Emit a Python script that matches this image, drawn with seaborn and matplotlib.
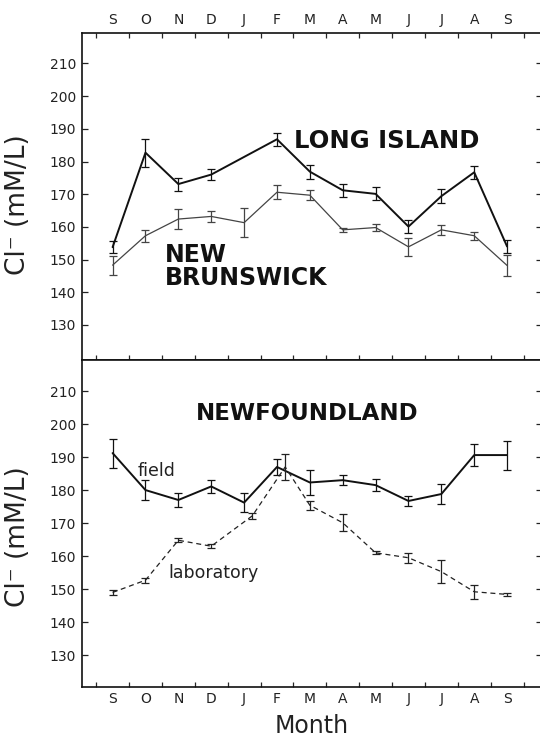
import matplotlib
matplotlib.use("Agg")
import matplotlib.pyplot as plt
import numpy as np
import pandas as pd
import seaborn as sns

sns.set_theme(style="ticks")
plt.rcParams['font.family'] = ['DejaVu Sans']

# month labels, Sept -> Sept
months = ['S', 'O', 'N', 'D', 'J', 'F', 'M', 'A', 'M', 'J', 'J', 'A', 'S']

# top panel: Long Island (no January sample) and New Brunswick
li_x = [0, 1, 2, 3, 5, 6, 7, 8, 9, 10, 11, 12]
li_cl = [153.8, 182.7, 173.1, 176.0, 186.8, 176.9, 171.2, 170.1, 160.1, 169.4, 176.7, 154.0]
li_err = [1.8, 4.3, 2.0, 1.8, 2.0, 2.1, 2.0, 2.0, 1.9, 2.1, 2.0, 2.1]

nb_x = [0, 1, 2, 3, 4, 5, 6, 7, 8, 9, 10, 11, 12]
nb_cl = [148.3, 157.3, 162.4, 163.2, 161.3, 170.6, 169.7, 159.1, 159.8, 153.9, 159.1, 157.3, 148.2]
nb_err = [2.9, 1.8, 3.0, 1.6, 4.5, 2.2, 1.6, 0.7, 1.0, 2.8, 1.6, 1.2, 3.1]

# bottom panel: Newfoundland field and laboratory
field_x = [0, 1, 2, 3, 4, 5, 6, 7, 8, 9, 10, 11, 12]
field_cl = [191.2, 180.0, 177.0, 181.1, 176.2, 187.0, 182.3, 183.0, 181.5, 176.7, 178.8, 190.6, 190.6]
field_err = [4.4, 3.0, 2.1, 2.1, 2.8, 2.3, 3.8, 1.5, 1.8, 1.6, 3.0, 3.4, 4.4]

lab_x = [0, 1, 2, 3, 4.25, 5.25, 6, 7, 8, 9, 10, 11, 12]
lab_cl = [149.0, 152.7, 164.8, 163.0, 172.2, 187.0, 175.4, 170.1, 161.0, 159.5, 155.3, 149.2, 148.4]
lab_err = [0.8, 0.8, 0.6, 0.6, 1.0, 3.9, 1.3, 2.6, 0.5, 1.5, 3.4, 2.2, 0.5]

yticks = list(range(130, 211, 10))


def series(ax, x, y, err, lw, color, ls='-'):
    df = pd.DataFrame({'x': x, 'y': y})
    sns.lineplot(data=df, x='x', y='y', ax=ax, color=color, linewidth=lw,
                 linestyle=ls, sort=False, errorbar=None)
    ax.errorbar(x, y, yerr=err, fmt='none', ecolor=color, elinewidth=0.9,
                capsize=2.8, capthick=0.9)


def style_axes(ax, ylim, top_labels):
    ax.set_xlim(-0.94, 13.05)
    ax.set_ylim(*ylim)
    ax.set_yticks(yticks)
    ax.set_yticklabels([str(v) for v in yticks], fontsize=10)
    ax.set_xticks(np.arange(-0.5, 13, 1))
    ax.set_xticklabels([])
    ax.set_xticks(range(13), minor=True)
    ax.set_xticklabels(months, minor=True, fontsize=10)
    ax.tick_params(axis='y', direction='in', length=4, width=0.9, left=True, right=True,
                   labelleft=True, pad=4, colors='#222222')
    ax.tick_params(axis='x', which='minor', length=0, pad=4,
                   labeltop=top_labels, labelbottom=not top_labels, colors='#222222')
    ax.tick_params(axis='x', which='major', direction='in', length=3.5, width=0.9,
                   top=top_labels, bottom=True, labeltop=False, labelbottom=False)
    for s in ax.spines.values():
        s.set_linewidth(1.2)
        s.set_color('#111111')
        s.set_visible(True)
    ax.set_xlabel('')
    ax.set_ylabel('Cl⁻ (mM/L)', fontsize=19, color='#222222')


fig = plt.figure(figsize=(5.4, 7.41), dpi=100)
ax1 = fig.add_axes([0.1513, 0.5142, 0.8517, 0.4417])
ax2 = fig.add_axes([0.1513, 0.0735, 0.8517, 0.4407])

series(ax1, li_x, li_cl, li_err, 1.4, '#111111')
series(ax1, nb_x, nb_cl, nb_err, 0.9, '#444444')
style_axes(ax1, (119.3, 219.4), True)
ax1.yaxis.set_label_coords(-0.11, 0.474)
ax1.text(5.53, 186.2, 'LONG ISLAND', fontsize=17.5, fontweight='bold',
         ha='left', va='center', color='#111111')
ax1.text(1.58, 149.2, 'NEW', fontsize=17, fontweight='bold',
         ha='left', va='baseline', color='#111111')
ax1.text(1.58, 142.2, 'BRUNSWICK', fontsize=17, fontweight='bold',
         ha='left', va='baseline', color='#111111')

series(ax2, field_x, field_cl, field_err, 1.4, '#111111')
series(ax2, lab_x, lab_cl, lab_err, 0.9, '#222222', ls=(0, (4, 3)))
style_axes(ax2, (120.5, 219.4), False)
ax2.tick_params(axis='x', which='major', top=False)
ax2.yaxis.set_label_coords(-0.11, 0.46)
ax2.set_xlabel('Month', fontsize=17, color='#222222')
ax2.xaxis.set_label_coords(0.5, -0.083)
ax2.text(2.52, 203.1, 'NEWFOUNDLAND', fontsize=16.5, fontweight='bold',
         ha='left', va='center', color='#111111')
ax2.text(0.77, 184.3, 'field', fontsize=12.5, ha='left', va='baseline', color='#222222')
ax2.text(1.71, 153.3, 'laboratory', fontsize=12.5, ha='left', va='baseline', color='#222222')

fig.savefig('out.png', dpi=100, facecolor='white')
